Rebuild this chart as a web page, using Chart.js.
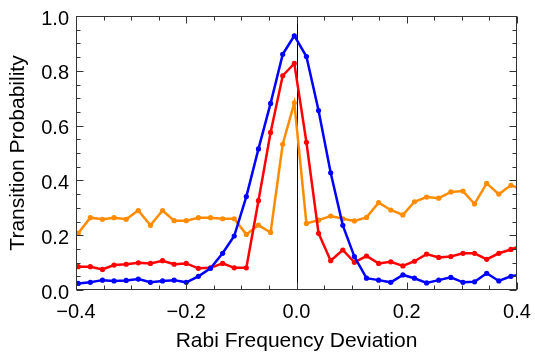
<!DOCTYPE html>
<html>
<head>
<meta charset="utf-8">
<script src="https://cdn.jsdelivr.net/npm/chart.js@4.4.1/dist/chart.umd.min.js"></script>
<style>
  html, body { margin: 0; padding: 0; background: #fff; }
  #chart { display: block; }
</style>
</head>
<body>
<canvas id="chart" width="535" height="354"></canvas>
<script>
// 측정 위치 (Rabi frequency deviation)
const deviation = [
    -0.396, -0.374, -0.352, -0.331, -0.309, -0.287, -0.265, -0.243, -0.222, -0.200,
    -0.178, -0.156, -0.134, -0.113, -0.091, -0.069, -0.047, -0.025, -0.004, 0.018,
    0.040, 0.062, 0.084, 0.105, 0.127, 0.149, 0.171, 0.193, 0.214, 0.236,
    0.258, 0.280, 0.302, 0.323, 0.345, 0.367, 0.389, 0.411
];

const blueProb = [
    0.024, 0.028, 0.036, 0.033, 0.035, 0.040, 0.028, 0.033, 0.036, 0.028,
    0.050, 0.079, 0.134, 0.197, 0.341, 0.515, 0.681, 0.860, 0.928, 0.852,
    0.655, 0.428, 0.236, 0.122, 0.043, 0.036, 0.028, 0.055, 0.043, 0.026,
    0.036, 0.046, 0.028, 0.030, 0.061, 0.033, 0.050, 0.058
];

const redProb = [
    0.085, 0.085, 0.075, 0.091, 0.094, 0.099, 0.097, 0.107, 0.094, 0.097,
    0.079, 0.081, 0.097, 0.081, 0.081, 0.326, 0.575, 0.782, 0.827, 0.539,
    0.207, 0.107, 0.146, 0.101, 0.124, 0.097, 0.103, 0.088, 0.105, 0.131,
    0.119, 0.122, 0.134, 0.134, 0.112, 0.134, 0.148, 0.165
];

const orangeProb = [
    0.207, 0.264, 0.258, 0.264, 0.258, 0.290, 0.236, 0.290, 0.253, 0.253,
    0.264, 0.264, 0.260, 0.260, 0.203, 0.237, 0.210, 0.532, 0.683, 0.243,
    0.255, 0.270, 0.260, 0.252, 0.265, 0.319, 0.292, 0.274, 0.322, 0.339,
    0.335, 0.358, 0.361, 0.314, 0.389, 0.350, 0.382, 0.366
];

const xTicks = [-0.4, -0.2, 0.0, 0.2, 0.4];
const yTicks = [0.0, 0.2, 0.4, 0.6, 0.8, 1.0];

const FONT = "'Liberation Sans', Arial, sans-serif";

let toPoints = (ys) => ys.map((y, i) => ({ x: deviation[i], y: y }));

let fmt = (v) => {
    if (Math.abs(v) < 1e-9) v = 0;
    return v.toFixed(1).replace('-', '\u2212');
};

let makeSet = (label, color, ys) => ({
    label: label,
    data: toPoints(ys),
    borderColor: color,
    backgroundColor: color,
    borderWidth: 2.5,
    pointRadius: 2.6,
    pointBorderWidth: 0,
    pointHoverRadius: 2.6,
    tension: 0,
    fill: false
});

/**
 * 프레임 + 안쪽 눈금 + x=0 세로선
 */
const framePlugin = {
    id: 'frame',
    beforeDatasetsDraw(chart) {
        const { ctx, chartArea: a, scales: { x } } = chart;
        const px = Math.round(x.getPixelForValue(0)) + 0.5;
        ctx.save();
        ctx.strokeStyle = '#000';
        ctx.lineWidth = 1;
        ctx.beginPath();
        ctx.moveTo(px, a.top);
        ctx.lineTo(px, a.bottom);
        ctx.stroke();
        ctx.restore();
    },
    afterDraw(chart) {
        const { ctx, chartArea: a, scales: { x, y } } = chart;
        const l = a.left + 0.5, r = a.right - 0.5, t = a.top + 0.5, b = a.bottom - 0.5;
        ctx.save();
        ctx.strokeStyle = '#333';
        ctx.lineWidth = 1;
        ctx.strokeRect(l, t, r - l, b - t);
        ctx.beginPath();
        for (let k = -8; k <= 8; k++) {
            const v = k * 0.05;
            const len = (k % 4 === 0) ? 7 : 4;
            const px = Math.round(x.getPixelForValue(v)) + 0.5;
            ctx.moveTo(px, b); ctx.lineTo(px, b - len);
            ctx.moveTo(px, t); ctx.lineTo(px, t + len);
        }
        for (let k = 0; k <= 20; k++) {
            const v = k * 0.05;
            const len = (k % 4 === 0) ? 7 : 4;
            const py = Math.round(y.getPixelForValue(v)) + 0.5;
            ctx.moveTo(l, py); ctx.lineTo(l + len, py);
            ctx.moveTo(r, py); ctx.lineTo(r - len, py);
        }
        ctx.stroke();
        ctx.restore();
    }
};

let setChartConfig = () => {
    let config = {
        type: 'line',
        data: {
            datasets: [
                makeSet('blue', '#0000ff', blueProb),
                makeSet('red', '#ff0000', redProb),
                makeSet('orange', '#ff8c00', orangeProb)
            ]
        },
        options: {
            responsive: false,
            maintainAspectRatio: false,
            animation: false,
            layout: {
                padding: { top: 16, right: 18, left: 0, bottom: 0 }
            },
            plugins: {
                legend: { display: false },
                tooltip: { enabled: false }
            },
            scales: {
                x: {
                    type: 'linear',
                    min: -0.4,
                    max: 0.4,
                    afterFit: (s) => {
                        s.height = 64;
                        s.paddingLeft = 0;
                        s.paddingRight = 0;
                    },
                    afterBuildTicks: (s) => { s.ticks = xTicks.map(v => ({ value: v })); },
                    grid: { display: false, drawTicks: false },
                    border: { display: false },
                    ticks: {
                        padding: 10,
                        maxRotation: 0,
                        color: '#000',
                        font: { family: FONT, size: 20 },
                        callback: (v) => fmt(v)
                    },
                    title: {
                        display: true,
                        text: 'Rabi Frequency Deviation',
                        color: '#000',
                        font: { family: FONT, size: 21 },
                        padding: { top: 0, bottom: 0 }
                    }
                },
                y: {
                    min: 0,
                    max: 1,
                    afterFit: (s) => {
                        s.width = 76;
                        s.paddingTop = 0;
                        s.paddingBottom = 0;
                    },
                    afterBuildTicks: (s) => { s.ticks = yTicks.map(v => ({ value: v })); },
                    grid: { display: false, drawTicks: false },
                    border: { display: false },
                    ticks: {
                        padding: 7,
                        labelOffset: 3,
                        color: '#000',
                        font: { family: FONT, size: 20 },
                        callback: (v) => fmt(v)
                    },
                    title: {
                        display: true,
                        text: 'Transition Probability',
                        color: '#000',
                        font: { family: FONT, size: 21 },
                        padding: { top: 6, bottom: 0 }
                    }
                }
            }
        },
        plugins: [framePlugin]
    };
    return config;
};

const probChart = new Chart(document.getElementById('chart'), setChartConfig());
</script>
</body>
</html>
